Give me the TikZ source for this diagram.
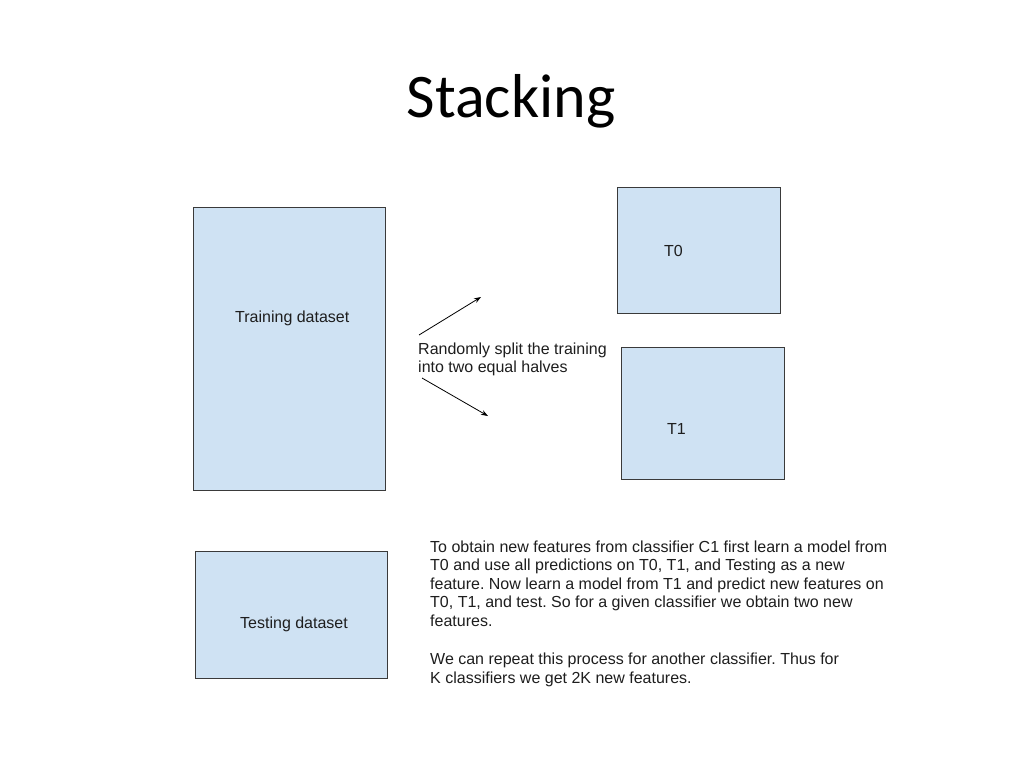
\documentclass[tikz,border=0pt]{standalone}
\usepackage{fontspec}
\setmainfont{Liberation Sans}
\newfontfamily\titlefont{Carlito}
\usetikzlibrary{arrows.meta}
\definecolor{boxfill}{HTML}{CFE2F3}
\definecolor{boxline}{HTML}{3A3A3A}
\definecolor{txt}{HTML}{1E1E1E}
\tikzset{
  databox/.style={draw=boxline, line width=0.9pt, fill=boxfill},
  lbl/.style={anchor=base west, inner sep=0pt, text=txt, font=\frenchspacing\fontsize{16}{19}\selectfont},
  splitarrow/.style={draw=black, line width=0.8pt, -{Stealth[length=7pt,width=5pt]}}
}
\begin{document}
\frenchspacing
\begin{tikzpicture}[x=1pt,y=-1pt]
\useasboundingbox (0,0) rectangle (1024,768);
\fill[white] (0,0) rectangle (1024,768);
% title
\node[anchor=base, inner sep=0pt, font=\titlefont\fontsize{62}{70}\selectfont] (title) at (511,117) {Stacking};
% boxes
\draw[databox] (193,207) rectangle (385,490);
\draw[databox] (195,551) rectangle (387,678);
\draw[databox] (617,187) rectangle (780,313);
\draw[databox] (621,347) rectangle (784,479);
% box labels
\node[lbl] (train) at (235,322) {Training dataset};
\node[lbl] (test) at (240,628) {Testing dataset};
\node[lbl] (t0) at (664,256) {T0};
\node[lbl] (t1) at (667,434) {T1};
% split text
\node[lbl] (split1) at (418,354) {Randomly split the training};
\node[lbl] (split2) at (418,372) {into two equal halves};
% arrows
\coordinate (a1s) at (419,335);
\coordinate (a1e) at (481,297);
\coordinate (a2s) at (422,378);
\coordinate (a2e) at (488,416);
\draw[splitarrow] (a1s) -- (a1e);
\draw[splitarrow] (a2s) -- (a2e);
% paragraph
\node[lbl] (p1) at (430,552) {To obtain new features from classifier C1 first learn a model from};
\node[lbl] (p2) at (430,570.5) {T0 and use all predictions on T0, T1, and Testing as a new};
\node[lbl] (p3) at (430,589) {feature. Now learn a model from T1 and predict new features on};
\node[lbl] (p4) at (430,607.5) {T0, T1, and test. So for a given classifier we obtain two new};
\node[lbl] (p5) at (430,626) {features.};
\node[lbl] (p6) at (430,664) {We can repeat this process for another classifier. Thus for};
\node[lbl] (p7) at (430,683) {K classifiers we get 2K new features.};
\end{tikzpicture}
\end{document}
